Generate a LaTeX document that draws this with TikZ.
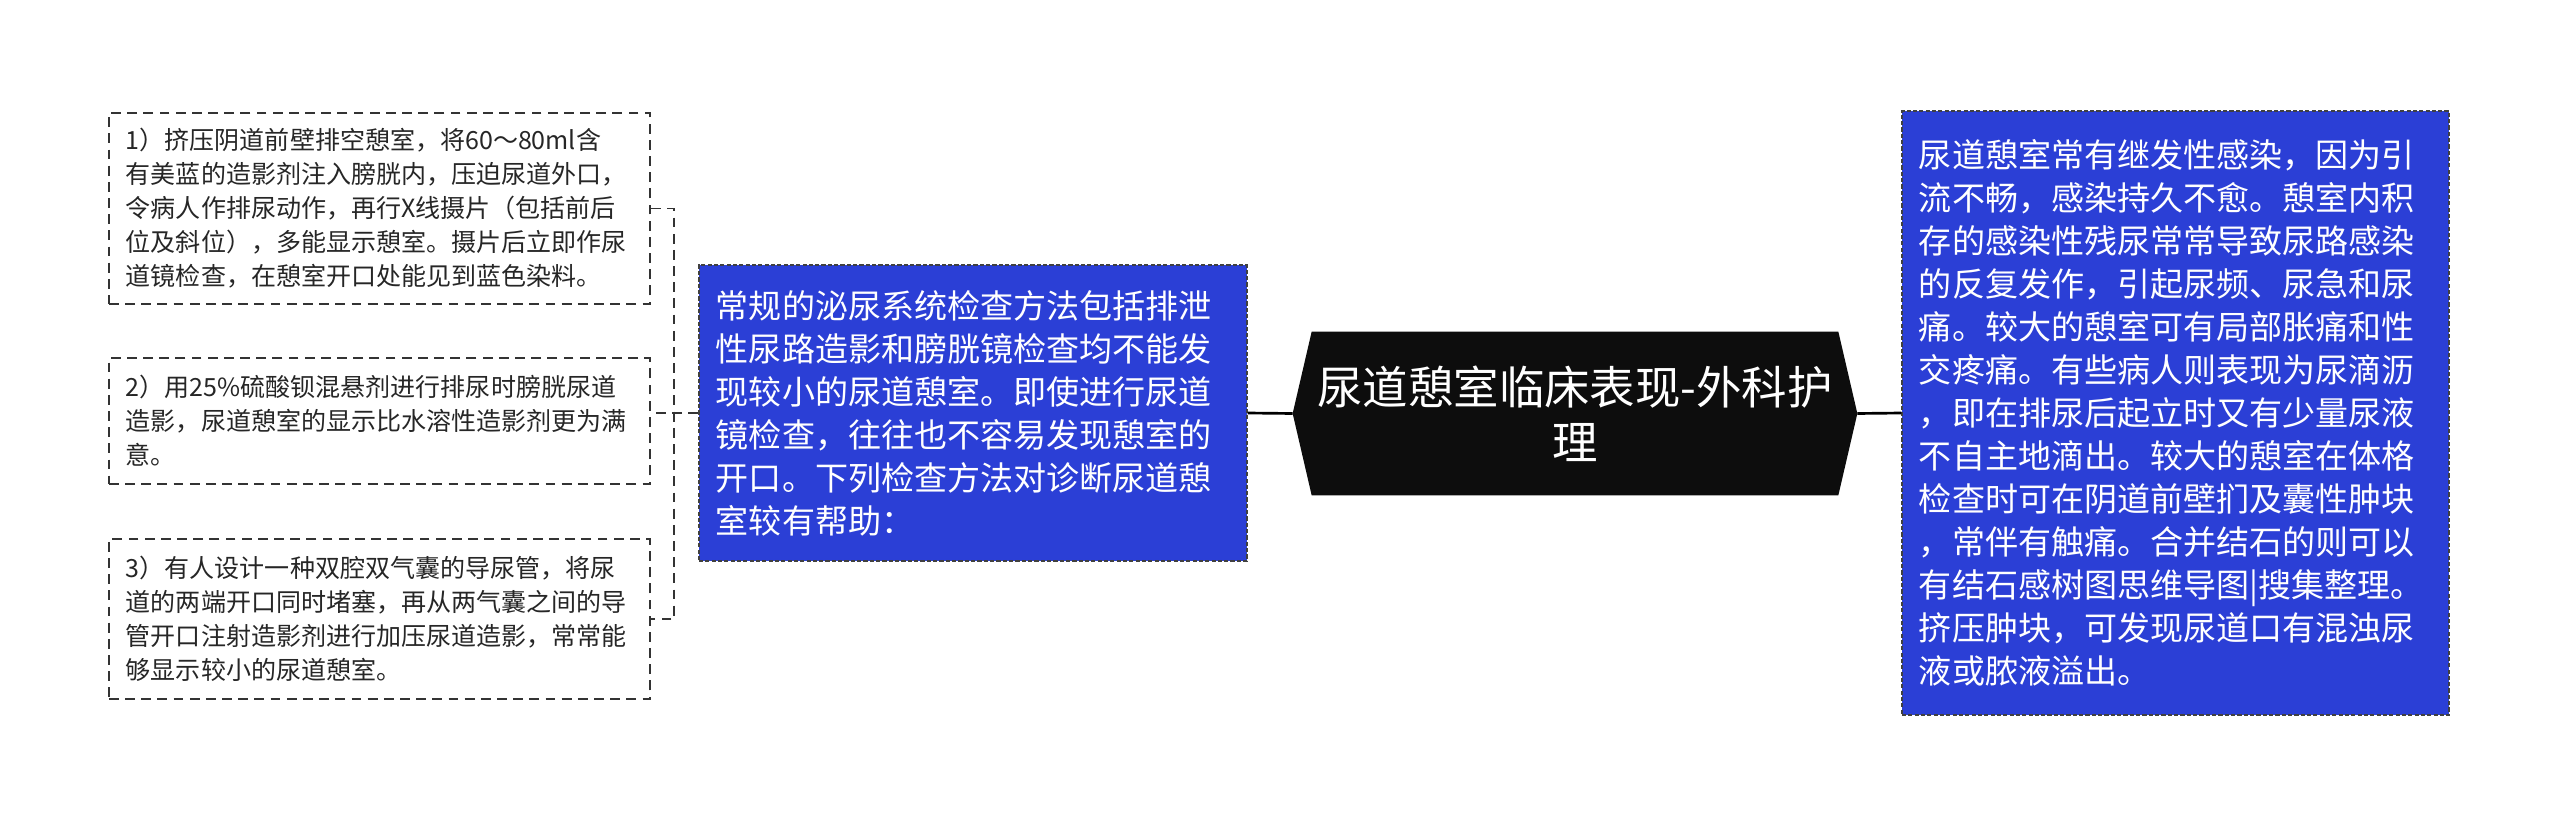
\documentclass[tikz,border=0pt]{standalone}
\usepackage{fontspec}
\setmainfont{Noto Sans CJK SC}
\usetikzlibrary{calc,positioning,backgrounds}
\definecolor{mapblue}{RGB}{43,63,214}

\begin{document}
\begin{tikzpicture}[x=0.025cm, y=-0.025cm,
    leafbox/.style={draw=black!80, line width=1.4pt, dash pattern=on 7pt off 4.5pt,
        text=black!85, align=left, inner xsep=0.425cm, inner ysep=0pt,
        text width=12.675cm, font=\fontsize{17.8pt}{24.2pt}\selectfont},
    bluebox/.style={draw=black!75, fill=mapblue, line width=0.9pt,
        dash pattern=on 3pt off 1.5pt, text=white, align=left,
        inner xsep=0.425cm, inner ysep=0pt,
        font=\fontsize{23.5pt}{30.6pt}\selectfont},
    treeline/.style={draw=black!80, line width=1.4pt, dash pattern=on 7pt off 4.5pt},
    link/.style={draw=black, line width=1.9pt}]
    \useasboundingbox (0,0) rectangle (2560,827);

    % Title hexagon
    \node[text=white, align=center, inner sep=0pt, minimum width=13.15cm,
          minimum height=4.075cm, font=\fontsize{32.3pt}{39pt}\selectfont]
         (title) at (1575,413.5) {尿道憩室临床表现-外科护\\理};
    \coordinate (hubL) at ($(title.west)+(-19,0)$);
    \coordinate (hubR) at ($(title.east)+(19,0)$);
    \begin{scope}[on background layer]
        \fill[black!95] (title.north west) -- (title.north east) -- (hubR)
             -- (title.south east) -- (title.south west) -- (hubL) -- cycle;
    \end{scope}

    % Blue boxes
    \node[bluebox, text width=12.85cm, minimum height=7.4cm]
         (method) at (973,413) {常规的泌尿系统检查方法包括排泄\\
            性尿路造影和膀胱镜检查均不能发\\
            现较小的尿道憩室。即使进行尿道\\
            镜检查，往往也不容易发现憩室的\\
            开口。下列检查方法对诊断尿道憩\\
            室较有帮助：};
    \node[bluebox, text width=12.825cm, minimum height=15.1cm]
         (symptom) at (2175.5,413) {尿道憩室常有继发性感染，因为引\\
            流不畅，感染持久不愈。憩室内积\\
            存的感染性残尿常常导致尿路感染\\
            的反复发作，引起尿频、尿急和尿\\
            痛。较大的憩室可有局部胀痛和性\\
            交疼痛。有些病人则表现为尿滴沥\\
            ，即在排尿后起立时又有少量尿液\\
            不自主地滴出。较大的憩室在体格\\
            检查时可在阴道前壁扪及囊性肿块\\
            ，常伴有触痛。合并结石的则可以\\
            有结石感树图思维导图|搜集整理。\\
            挤压肿块，可发现尿道口有混浊尿\\
            液或脓液溢出。};

    % Left dashed boxes
    \node[leafbox, minimum height=4.775cm] (leaf1) at (379.5,208.5)
         {1）挤压阴道前壁排空憩室，将60～80ml含\\
          有美蓝的造影剂注入膀胱内，压迫尿道外口，\\
          令病人作排尿动作，再行X线摄片（包括前后\\
          位及斜位），多能显示憩室。摄片后立即作尿\\
          道镜检查，在憩室开口处能见到蓝色染料。};
    \node[leafbox, minimum height=3.15cm] (leaf2) at (379.5,421)
         {2）用25\%硫酸钡混悬剂进行排尿时膀胱尿道\\
          造影，尿道憩室的显示比水溶性造影剂更为满\\
          意。};
    \node[leafbox, minimum height=4.0cm] (leaf3) at (379.5,619)
         {3）有人设计一种双腔双气囊的导尿管，将尿\\
          道的两端开口同时堵塞，再从两气囊之间的导\\
          管开口注射造影剂进行加压尿道造影，常常能\\
          够显示较小的尿道憩室。};

    % Connectors
    \draw[link] (method.east) -- (hubL);
    \draw[link] (hubR) -- (symptom.west);
    \coordinate (bus) at ($(method.west)+(-24,0)$);
    \draw[treeline] (leaf1.east) -| (bus) |- (leaf3.east);
    \draw[treeline] (method.west) -- (bus) -- (bus -| leaf2.east);
\end{tikzpicture}
\end{document}
